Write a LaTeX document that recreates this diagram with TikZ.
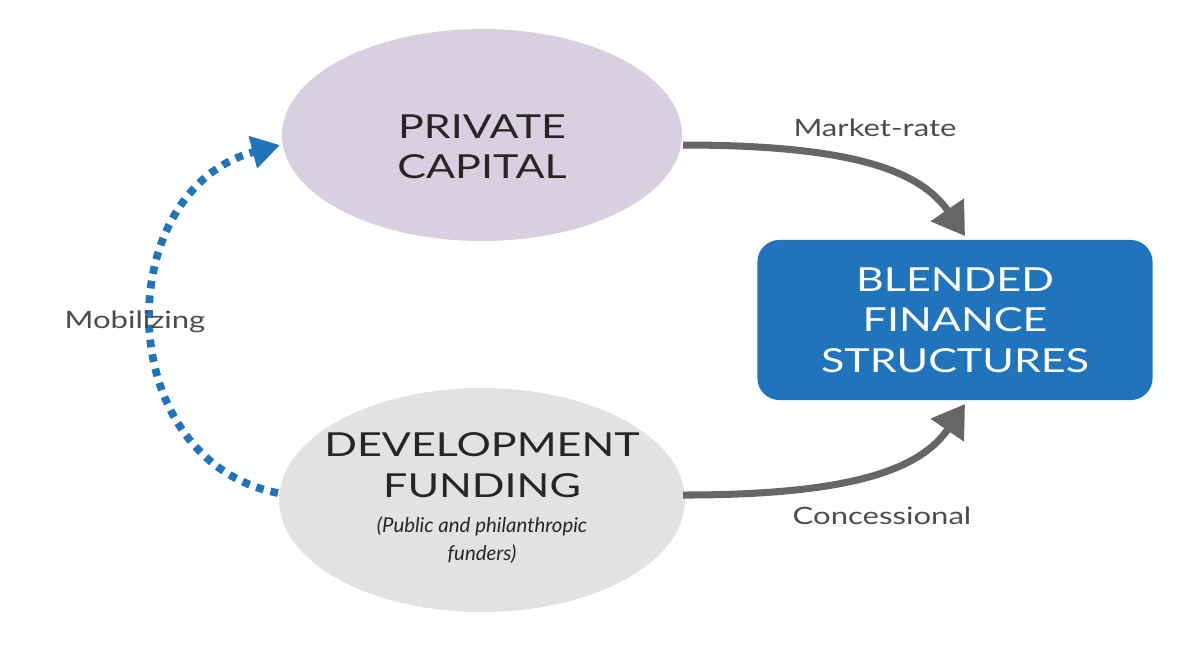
\documentclass[tikz,border=0pt]{standalone}
\usepackage{fontspec}
\setmainfont{Lato}[FakeStretch=1.3,Ligatures={NoCommon,NoRare,NoDiscretionary}]
\newfontfamily\plainit{Lato}[ItalicFont=* Italic]
\usetikzlibrary{arrows.meta}
\definecolor{pc}{HTML}{D8D0E0}
\definecolor{df}{HTML}{E2E2E2}
\definecolor{bl}{HTML}{1F74BB}
\definecolor{ar}{HTML}{666666}
\begin{document}
\begin{tikzpicture}[x=0.01cm,y=-0.01cm,
  big/.style={font=\fontsize{9.4pt}{11.5pt}\selectfont, align=center, text=black!85},
  lab/.style={font=\fontsize{6.8pt}{8pt}\selectfont, text=black!70},
  garrow/.style={ar, line width=2pt, -{Triangle[length=9pt,width=11pt]}},
  barrow/.style={bl, line width=2.2pt, dash pattern=on 2.2pt off 2pt, -{Triangle[length=8pt,width=9pt]}}]
\useasboundingbox (0,0) rectangle (1200,644);
\fill[pc] (482,135) ellipse[x radius=200, y radius=106];
\node (pc) at (482,135) {};
\node[big] at (482,147) {PRIVATE\\CAPITAL};
\fill[df] (482,500) ellipse[x radius=203, y radius=112];
\node (df) at (482,500) {};
\node[big] at (482,465) {DEVELOPMENT\\FUNDING};
\node[align=center, font=\plainit\fontsize{5.8pt}{8pt}\selectfont\itshape, text=black!85] at (482,540) {(Public and philanthropic\\funders)};
\node[rounded corners=0.22cm, fill=bl, minimum width=3.95cm, minimum height=1.6cm, big, text=white] (bf) at (955,320) {BLENDED\\FINANCE\\STRUCTURES};
\coordinate (a1) at (683,145); \coordinate (a2) at (965,236);
\coordinate (b1) at (683,495); \coordinate (b2) at (965,404);
\draw[garrow] (a1) .. controls (850,145) and (920,170) .. (a2);
\draw[garrow] (b1) .. controls (850,495) and (920,470) .. (b2);
\coordinate (c1) at (278,493); \coordinate (c2) at (280,145);
\draw[barrow] (c1) .. controls (110,460) and (110,190) .. (c2);
\node[lab] at (875,128) {Market-rate};
\node[lab] at (882,516) {Concessional};
\node[lab] at (135,322) {Mobilizing};
\end{tikzpicture}
\end{document}
